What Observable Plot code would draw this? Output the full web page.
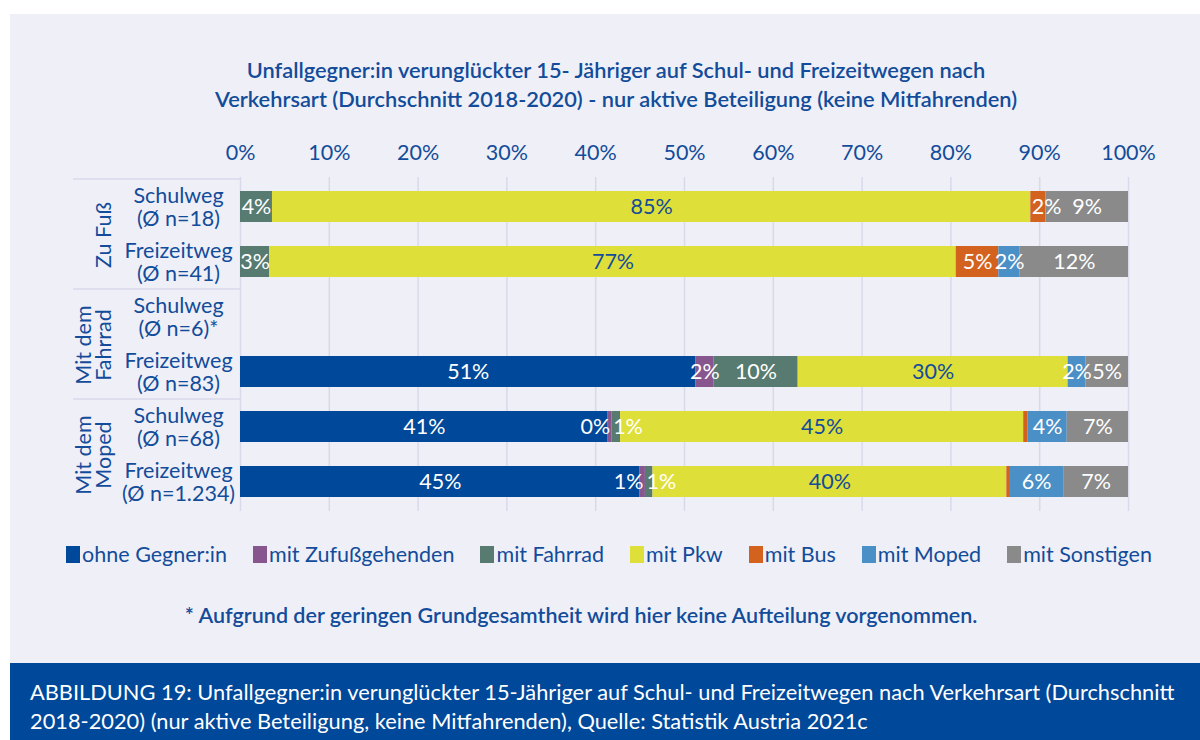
<!DOCTYPE html>
<html><head><meta charset="utf-8">
<script src="https://cdn.jsdelivr.net/npm/d3@7"></script>
<script src="https://cdn.jsdelivr.net/npm/@observablehq/plot@0.6"></script>
<style>
body{margin:0;background:#fff;font-family:Lato,"Open Sans",sans-serif;}
#wrap{position:relative;width:1200px;height:740px;background:#fff;overflow:hidden;}
#panel{position:absolute;left:10px;top:14px;width:1190px;height:649px;background:#efeff7;}
#title{position:absolute;left:16px;width:1200px;top:55px;text-align:center;color:#124c9a;font-size:21.8px;font-weight:600;line-height:29px;}
#chart{position:absolute;left:0;top:125px;}
#legend{position:absolute;top:541px;left:0;width:1200px;display:flex;justify-content:center;gap:26px;color:#124c9a;font-size:21.5px;padding-left:18px;box-sizing:border-box;}
#legend span.it{display:flex;align-items:center;}
#legend i{display:inline-block;width:14px;height:17px;margin-right:2px;}
#note{position:absolute;top:602px;left:0;width:1200px;text-align:center;color:#124c9a;font-size:21.5px;font-weight:600;padding-right:38px;box-sizing:border-box;}
#caption{position:absolute;left:10px;top:663px;width:1190px;height:77px;background:#00489a;color:#fff;font-size:21.8px;line-height:29px;padding:14px 0 0 20px;box-sizing:border-box;}
</style></head>
<body><div id="wrap">
<div id="panel"></div>
<div id="title">Unfallgegner:in verunglückter 15- Jähriger auf Schul- und Freizeitwegen nach<br>Verkehrsart (Durchschnitt 2018-2020) - nur aktive Beteiligung (keine Mitfahrenden)</div>
<div id="chart"></div>
<div id="legend"></div>
<div id="note">* Aufgrund der geringen Grundgesamtheit wird hier keine Aufteilung vorgenommen.</div>
<div id="caption">ABBILDUNG 19: Unfallgegner:in verunglückter 15-Jähriger auf Schul- und Freizeitwegen nach Verkehrsart (Durchschnitt<br>2018-2020) (nur aktive Beteiligung, keine Mitfahrenden), Quelle: Statistik Austria 2021c</div>
</div>
<script>
// ---- data ----
const rows = ["Schulweg\n(Ø n=18)", "Freizeitweg\n(Ø n=41)", "Schulweg\n(Ø n=6)*", "Freizeitweg\n(Ø n=83)", "Schulweg\n(Ø n=68)", "Freizeitweg\n(Ø n=1.234)"];
const groups = ["Zu Fuß", "Mit dem\nFahrrad", "Mit dem\nMoped"];
const groupFirstRow = [0, 2, 4];
const series = ["ohne Gegner:in", "mit Zufußgehenden", "mit Fahrrad", "mit Pkw", "mit Bus", "mit Moped", "mit Sonstigen"];
const colors = ["#00489a", "#88568f", "#577b70", "#dfdf3a", "#d4621f", "#4a8fc6", "#8a8a8a"];
const ohneGegner   = [0,    0,    null, 51.3, 41.4, 45.0];
const zufuss       = [0,    0,    null, 2.0,  0.45, 0.6];
const fahrrad      = [3.6,  3.3,  null, 9.5,  0.95, 0.85];
const pkw          = [85.4, 77.3, null, 30.4, 45.4, 39.85];
const bus          = [1.7,  4.8,  null, 0,    0.5,  0.3];
const moped        = [0,    2.4,  null, 2.0,  4.4,  6.1];
const sonstige     = [9.3,  12.2, null, 4.8,  6.9,  7.3];
const xTicks = [0,10,20,30,40,50,60,70,80,90,100];

const valuesBySeries = [ohneGegner, zufuss, fahrrad, pkw, bus, moped, sonstige];
const data = [];
rows.forEach((r, i) => series.forEach((s, j) => {
  const v = valuesBySeries[j][i];
  if (v != null && v > 0) data.push({row: r, series: s, value: v});
}));
const lab = d => Math.round(d.value) + "%";
const narrow = d => d.value < 1.2;
const hidden = d => d.series === "mit Bus" && d.value < 1;
const isEnd = d => narrow(d) && d.series === "mit Zufußgehenden";
const isStart = d => (narrow(d) && d.series === "mit Fahrrad") || (!hidden(d) && d.series === "mit Bus" && d.value < 3);
const isCenter = d => !hidden(d) && !isEnd(d) && !isStart(d);

const font = "Lato, 'Open Sans', sans-serif";
const blue = "#124c9a";
const fs = 21.5;
const stackOpts = {x: "value", y: "row", z: "series", order: series};

const plot = Plot.plot({
  width: 1200, height: 400,
  marginLeft: 240, marginRight: 72, marginTop: 52, marginBottom: 14,
  style: {background: "transparent", fontFamily: font},
  x: {domain: [0, 100], axis: null},
  y: {domain: rows, axis: null, paddingInner: 0.43, paddingOuter: 0.2},
  color: {domain: series, range: colors},
  marks: [
    Plot.ruleX(xTicks, {stroke: "#d9d9ec", strokeWidth: 1.5}),
    Plot.axisX({anchor: "top", label: null, ticks: xTicks, tickSize: 0, tickPadding: 18, tickFormat: d => d + "%", fontSize: fs, fill: blue}),
    Plot.ruleY(groupFirstRow.map(i => rows[i]), {x1: -18.8, x2: 0, dy: -28, stroke: "#d9d9ec", strokeWidth: 1.5, clip: false}),
    Plot.barX(data, Plot.stackX({...stackOpts, fill: "series"})),
    Plot.text(data, Plot.stackX({...stackOpts, text: d => isCenter(d) && d.series !== "mit Pkw" ? lab(d) : "", fill: "#fff", fontSize: fs})),
    Plot.text(data, Plot.stackX({...stackOpts, text: d => isCenter(d) && d.series === "mit Pkw" ? lab(d) : "", fill: blue, fontSize: fs})),
    Plot.text(data, Plot.stackX2({...stackOpts, text: d => isEnd(d) ? lab(d) : "", fill: "#fff", fontSize: fs, textAnchor: "end", dx: -2})),
    Plot.text(data, Plot.stackX1({...stackOpts, text: d => isStart(d) ? lab(d) : "", fill: "#fff", fontSize: fs, textAnchor: "start", dx: 1})),
    Plot.text(rows, {x: 0, y: d => d, text: d => d, dx: -62, textAnchor: "middle", fill: blue, fontSize: fs, lineHeight: 1.1}),
    Plot.text(groups.map((g, k) => ({g, row: rows[groupFirstRow[k]]})), {x: 0, y: "row", text: "g", dy: 28, dx: -130, rotate: -90, lineAnchor: "bottom", textAnchor: "middle", fill: blue, fontSize: fs, lineHeight: 0.9})
  ]
});
document.getElementById("chart").appendChild(plot);

const leg = document.getElementById("legend");
series.forEach((s, i) => {
  const it = document.createElement("span");
  it.className = "it";
  it.innerHTML = `<i style="background:${colors[i]}"></i>${s}`;
  leg.appendChild(it);
});
</script>
</body></html>
